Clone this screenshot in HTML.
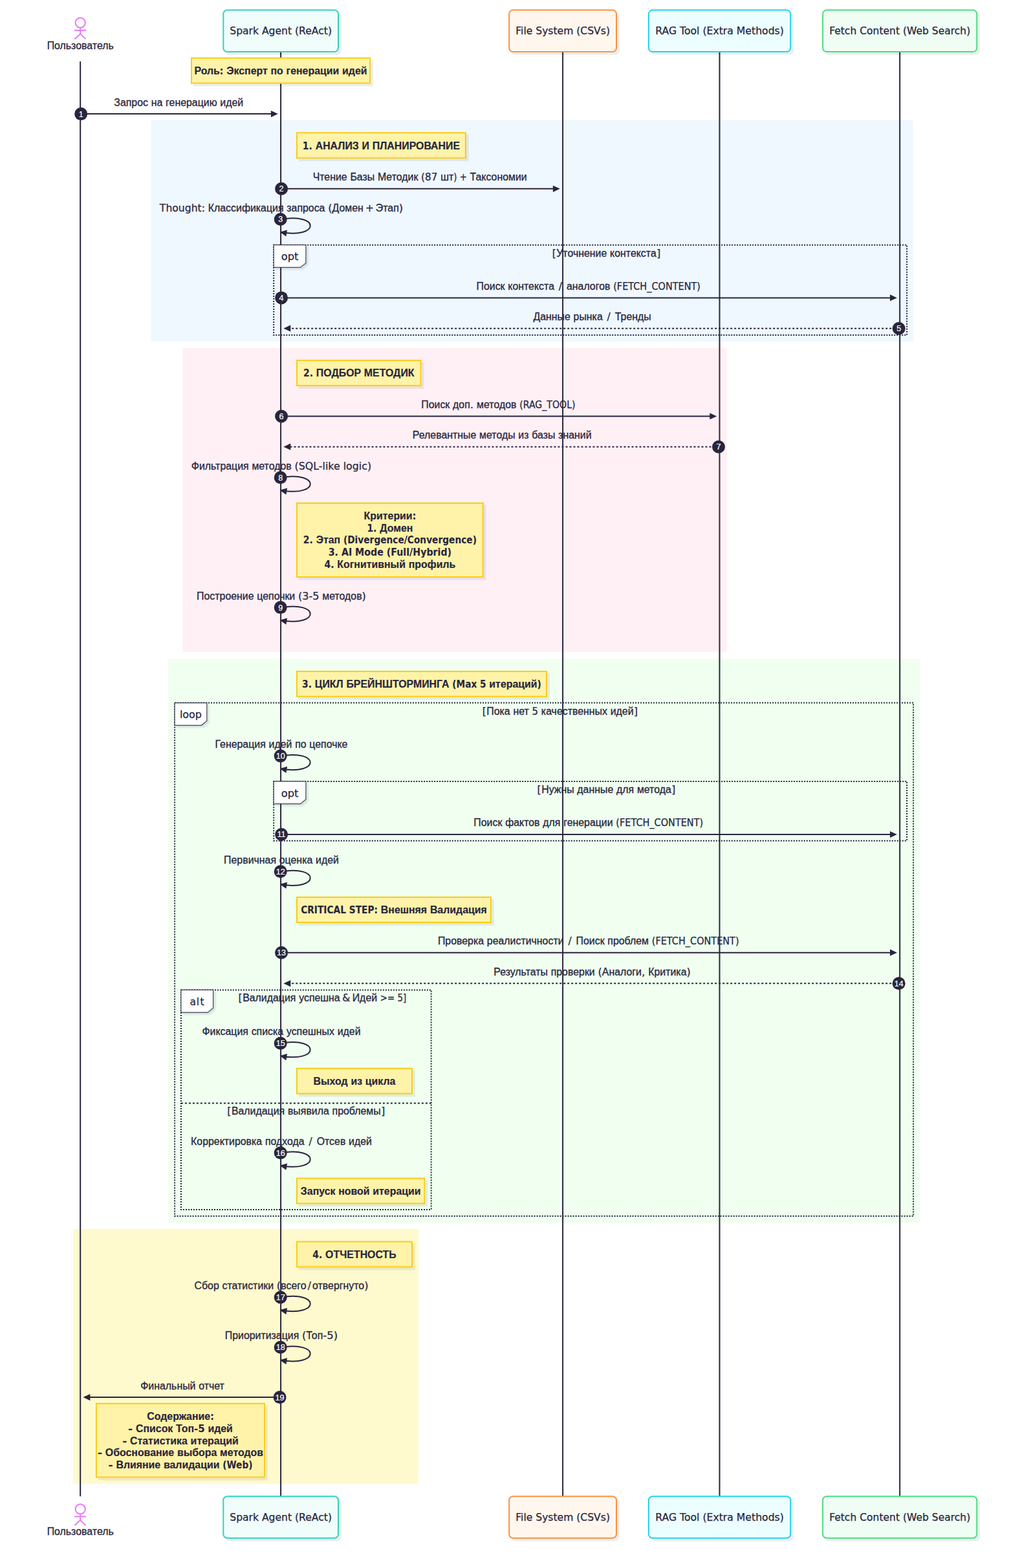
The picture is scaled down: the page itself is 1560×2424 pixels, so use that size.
<!DOCTYPE html>
<html lang="ru">
<head>
<meta charset="utf-8">
<title>Spark Agent sequence diagram</title>
<style>
html,body{margin:0;padding:0;background:#fff;}
body{width:1560px;height:2424px;overflow:hidden;font-family:"Liberation Sans","DejaVu Sans",sans-serif;}
svg{display:block;}
</style>
</head>
<body>
<svg width="1560" height="2424" viewBox="0 0 1560 2424">
<defs>
<filter id="sh" x="-10%" y="-20%" width="125%" height="150%"><feDropShadow dx="3.8" dy="3.8" stdDeviation="0.6" flood-color="#000" flood-opacity="0.07"/></filter>
<filter id="sh2" x="-20%" y="-20%" width="150%" height="160%"><feDropShadow dx="3" dy="3" stdDeviation="1" flood-color="#1e2a4a" flood-opacity="0.12"/></filter>
</defs>
<rect x="233.4" y="185.8" width="1178.4" height="342.3" fill="#f0f8ff"/>
<rect x="282.6" y="537.7" width="841.1" height="470.5" fill="#fff0f5"/>
<rect x="260.4" y="1018.4" width="1161.7" height="871.7" fill="#f0fff0"/>
<rect x="113.2" y="1899.9" width="533.8" height="394.0" fill="#fffacd"/>
<line x1="124.2" y1="95.0" x2="124.2" y2="2313.2999999999997" stroke="#28253d" stroke-width="2"/>
<line x1="434.1" y1="80.1" x2="434.1" y2="2313.2999999999997" stroke="#28253d" stroke-width="2"/>
<line x1="870.1" y1="80.1" x2="870.1" y2="2313.2999999999997" stroke="#28253d" stroke-width="2"/>
<line x1="1112.5" y1="80.1" x2="1112.5" y2="2313.2999999999997" stroke="#28253d" stroke-width="2"/>
<line x1="1391.2" y1="80.1" x2="1391.2" y2="2313.2999999999997" stroke="#28253d" stroke-width="2"/>
<g stroke="#e879f9" stroke-width="2" fill="none"><circle cx="124.2" cy="35.2" r="7.6"/><line x1="124.2" y1="43.2" x2="124.2" y2="52.7"/><line x1="115.2" y1="46.8" x2="133.2" y2="46.8"/><line x1="115.4" y1="60.4" x2="124.2" y2="52.4"/><line x1="124.2" y1="52.4" x2="132.5" y2="60.4"/></g>
<text y="75.60" fill="#28253d" stroke="#28253d" stroke-width="0.3" xml:space="preserve"><tspan x="72.65" font-family="'Liberation Sans', 'DejaVu Sans', sans-serif" font-size="16" textLength="103.10" lengthAdjust="spacingAndGlyphs">Пользователь</tspan></text>
<rect x="345.3" y="15.6" width="177.7" height="64.5" rx="6" fill="#f0fdfa" stroke="#2dd4bf" stroke-width="2" filter="url(#sh)"/>
<text y="53.30" fill="#28253d" stroke="#28253d" stroke-width="0.3" xml:space="preserve"><tspan x="355.24" font-family="'DejaVu Sans', 'Liberation Sans', sans-serif" font-size="15.50" stroke-width="0.25" textLength="157.77" lengthAdjust="spacingAndGlyphs">Spark Agent (ReAct)</tspan></text>
<rect x="787.2" y="15.6" width="165.8" height="64.5" rx="6" fill="#fff7ed" stroke="#fb923c" stroke-width="2" filter="url(#sh)"/>
<text y="53.30" fill="#28253d" stroke="#28253d" stroke-width="0.3" xml:space="preserve"><tspan x="797.24" font-family="'DejaVu Sans', 'Liberation Sans', sans-serif" font-size="15.50" stroke-width="0.25" textLength="145.73" lengthAdjust="spacingAndGlyphs">File System (CSVs)</tspan></text>
<rect x="1002.9" y="15.6" width="219.3" height="64.5" rx="6" fill="#ecfeff" stroke="#22d3ee" stroke-width="2" filter="url(#sh)"/>
<text y="53.30" fill="#28253d" stroke="#28253d" stroke-width="0.3" xml:space="preserve"><tspan x="1013.23" font-family="'DejaVu Sans', 'Liberation Sans', sans-serif" font-size="15.50" stroke-width="0.25" textLength="198.63" lengthAdjust="spacingAndGlyphs">RAG Tool (Extra Methods)</tspan></text>
<rect x="1272.1" y="15.6" width="238.2" height="64.5" rx="6" fill="#f0fdf4" stroke="#4ade80" stroke-width="2" filter="url(#sh)"/>
<text y="53.30" fill="#28253d" stroke="#28253d" stroke-width="0.3" xml:space="preserve"><tspan x="1282.14" font-family="'DejaVu Sans', 'Liberation Sans', sans-serif" font-size="15.50" stroke-width="0.25" textLength="218.12" lengthAdjust="spacingAndGlyphs">Fetch Content (Web Search)</tspan></text>
<g stroke="#e879f9" stroke-width="2" fill="none"><circle cx="124.2" cy="2332.9" r="7.6"/><line x1="124.2" y1="2340.9" x2="124.2" y2="2350.4"/><line x1="115.2" y1="2344.5" x2="133.2" y2="2344.5"/><line x1="115.4" y1="2358.1" x2="124.2" y2="2350.1"/><line x1="124.2" y1="2350.1" x2="132.5" y2="2358.1"/></g>
<text y="2373.30" fill="#28253d" stroke="#28253d" stroke-width="0.3" xml:space="preserve"><tspan x="72.65" font-family="'Liberation Sans', 'DejaVu Sans', sans-serif" font-size="16" textLength="103.10" lengthAdjust="spacingAndGlyphs">Пользователь</tspan></text>
<rect x="345.3" y="2313.3" width="177.7" height="64.5" rx="6" fill="#f0fdfa" stroke="#2dd4bf" stroke-width="2" filter="url(#sh)"/>
<text y="2351.00" fill="#28253d" stroke="#28253d" stroke-width="0.3" xml:space="preserve"><tspan x="355.24" font-family="'DejaVu Sans', 'Liberation Sans', sans-serif" font-size="15.50" stroke-width="0.25" textLength="157.77" lengthAdjust="spacingAndGlyphs">Spark Agent (ReAct)</tspan></text>
<rect x="787.2" y="2313.3" width="165.8" height="64.5" rx="6" fill="#fff7ed" stroke="#fb923c" stroke-width="2" filter="url(#sh)"/>
<text y="2351.00" fill="#28253d" stroke="#28253d" stroke-width="0.3" xml:space="preserve"><tspan x="797.24" font-family="'DejaVu Sans', 'Liberation Sans', sans-serif" font-size="15.50" stroke-width="0.25" textLength="145.73" lengthAdjust="spacingAndGlyphs">File System (CSVs)</tspan></text>
<rect x="1002.9" y="2313.3" width="219.3" height="64.5" rx="6" fill="#ecfeff" stroke="#22d3ee" stroke-width="2" filter="url(#sh)"/>
<text y="2351.00" fill="#28253d" stroke="#28253d" stroke-width="0.3" xml:space="preserve"><tspan x="1013.23" font-family="'DejaVu Sans', 'Liberation Sans', sans-serif" font-size="15.50" stroke-width="0.25" textLength="198.63" lengthAdjust="spacingAndGlyphs">RAG Tool (Extra Methods)</tspan></text>
<rect x="1272.1" y="2313.3" width="238.2" height="64.5" rx="6" fill="#f0fdf4" stroke="#4ade80" stroke-width="2" filter="url(#sh)"/>
<text y="2351.00" fill="#28253d" stroke="#28253d" stroke-width="0.3" xml:space="preserve"><tspan x="1282.14" font-family="'DejaVu Sans', 'Liberation Sans', sans-serif" font-size="15.50" stroke-width="0.25" textLength="218.12" lengthAdjust="spacingAndGlyphs">Fetch Content (Web Search)</tspan></text>
<rect x="423.2" y="378.7" width="978.9" height="139.3" fill="none" stroke="#28253d" stroke-width="2" stroke-dasharray="2 2"/>
<polygon points="423.2,378.7 472.9,378.7 472.9,406.59999999999997 464.5,413.4 423.2,413.4" fill="#fff" stroke="#28253d" stroke-opacity="0.85" stroke-width="1.2" filter="url(#sh2)"/>
<text y="402.30" fill="#28253d" stroke="#28253d" stroke-width="0.3" xml:space="preserve"><tspan x="434.67" font-family="'DejaVu Sans', 'Liberation Sans', sans-serif" font-size="15.50" stroke-width="0.25" textLength="26.77" lengthAdjust="spacingAndGlyphs">opt</tspan></text>
<text y="396.70" fill="#28253d" stroke="#28253d" stroke-width="0.3" xml:space="preserve"><tspan x="853.67" font-family="'DejaVu Sans', 'Liberation Sans', sans-serif" font-size="15.50" stroke-width="0.25">[</tspan><tspan x="860.26" font-family="'Liberation Sans', 'DejaVu Sans', sans-serif" font-size="16" textLength="78.05" lengthAdjust="spacingAndGlyphs">Уточнение</tspan><tspan> </tspan><tspan x="943.06" font-family="'Liberation Sans', 'DejaVu Sans', sans-serif" font-size="16" textLength="71.68" lengthAdjust="spacingAndGlyphs">контекста</tspan><tspan x="1015.28" font-family="'DejaVu Sans', 'Liberation Sans', sans-serif" font-size="15.50" stroke-width="0.25">]</tspan></text>
<rect x="270.1" y="1086.6" width="1142.0" height="793.5" fill="none" stroke="#28253d" stroke-width="2" stroke-dasharray="2 2"/>
<polygon points="270.1,1086.6 319.8,1086.6 319.8,1114.5 311.40000000000003,1121.3 270.1,1121.3" fill="#fff" stroke="#28253d" stroke-opacity="0.85" stroke-width="1.2" filter="url(#sh2)"/>
<text y="1110.20" fill="#28253d" stroke="#28253d" stroke-width="0.3" xml:space="preserve"><tspan x="277.92" font-family="'DejaVu Sans', 'Liberation Sans', sans-serif" font-size="15.50" stroke-width="0.25" textLength="34.06" lengthAdjust="spacingAndGlyphs">loop</tspan></text>
<text y="1104.60" fill="#28253d" stroke="#28253d" stroke-width="0.3" xml:space="preserve"><tspan x="745.74" font-family="'DejaVu Sans', 'Liberation Sans', sans-serif" font-size="15.50" stroke-width="0.25">[</tspan><tspan x="752.32" font-family="'Liberation Sans', 'DejaVu Sans', sans-serif" font-size="16" textLength="36.39" lengthAdjust="spacingAndGlyphs">Пока</tspan><tspan> </tspan><tspan x="793.47" font-family="'Liberation Sans', 'DejaVu Sans', sans-serif" font-size="16" textLength="24.36" lengthAdjust="spacingAndGlyphs">нет</tspan><tspan> </tspan><tspan x="822.58" font-family="'DejaVu Sans', 'Liberation Sans', sans-serif" font-size="15.50" stroke-width="0.25" textLength="9.50" lengthAdjust="spacingAndGlyphs">5</tspan><tspan> </tspan><tspan x="836.84" font-family="'Liberation Sans', 'DejaVu Sans', sans-serif" font-size="16" textLength="102.13" lengthAdjust="spacingAndGlyphs">качественных</tspan><tspan> </tspan><tspan x="943.72" font-family="'Liberation Sans', 'DejaVu Sans', sans-serif" font-size="16" textLength="35.86" lengthAdjust="spacingAndGlyphs">идей</tspan><tspan x="980.12" font-family="'DejaVu Sans', 'Liberation Sans', sans-serif" font-size="15.50" stroke-width="0.25">]</tspan></text>
<rect x="423.2" y="1207.9" width="978.9" height="91.8" fill="none" stroke="#28253d" stroke-width="2" stroke-dasharray="2 2"/>
<polygon points="423.2,1207.9 472.9,1207.9 472.9,1235.8000000000002 464.5,1242.6000000000001 423.2,1242.6000000000001" fill="#fff" stroke="#28253d" stroke-opacity="0.85" stroke-width="1.2" filter="url(#sh2)"/>
<text y="1231.50" fill="#28253d" stroke="#28253d" stroke-width="0.3" xml:space="preserve"><tspan x="434.67" font-family="'DejaVu Sans', 'Liberation Sans', sans-serif" font-size="15.50" stroke-width="0.25" textLength="26.77" lengthAdjust="spacingAndGlyphs">opt</tspan></text>
<text y="1225.90" fill="#28253d" stroke="#28253d" stroke-width="0.3" xml:space="preserve"><tspan x="830.59" font-family="'DejaVu Sans', 'Liberation Sans', sans-serif" font-size="15.50" stroke-width="0.25">[</tspan><tspan x="837.17" font-family="'Liberation Sans', 'DejaVu Sans', sans-serif" font-size="16" textLength="50.42" lengthAdjust="spacingAndGlyphs">Нужны</tspan><tspan> </tspan><tspan x="892.34" font-family="'Liberation Sans', 'DejaVu Sans', sans-serif" font-size="16" textLength="55.91" lengthAdjust="spacingAndGlyphs">данные</tspan><tspan> </tspan><tspan x="953.01" font-family="'Liberation Sans', 'DejaVu Sans', sans-serif" font-size="16" textLength="27.14" lengthAdjust="spacingAndGlyphs">для</tspan><tspan> </tspan><tspan x="984.90" font-family="'Liberation Sans', 'DejaVu Sans', sans-serif" font-size="16" textLength="52.92" lengthAdjust="spacingAndGlyphs">метода</tspan><tspan x="1038.37" font-family="'DejaVu Sans', 'Liberation Sans', sans-serif" font-size="15.50" stroke-width="0.25">]</tspan></text>
<rect x="279.9" y="1530.4" width="386.8" height="339.5" fill="none" stroke="#28253d" stroke-width="2" stroke-dasharray="2 2"/>
<line x1="279.9" y1="1705.5" x2="666.7" y2="1705.5" stroke="#28253d" stroke-width="2" stroke-dasharray="3 3"/>
<text y="1722.60" fill="#28253d" stroke="#28253d" stroke-width="0.3" xml:space="preserve"><tspan x="351.33" font-family="'DejaVu Sans', 'Liberation Sans', sans-serif" font-size="15.50" stroke-width="0.25">[</tspan><tspan x="357.92" font-family="'Liberation Sans', 'DejaVu Sans', sans-serif" font-size="16" textLength="82.26" lengthAdjust="spacingAndGlyphs">Валидация</tspan><tspan> </tspan><tspan x="444.93" font-family="'Liberation Sans', 'DejaVu Sans', sans-serif" font-size="16" textLength="63.89" lengthAdjust="spacingAndGlyphs">выявила</tspan><tspan> </tspan><tspan x="513.57" font-family="'Liberation Sans', 'DejaVu Sans', sans-serif" font-size="16" textLength="75.11" lengthAdjust="spacingAndGlyphs">проблемы</tspan><tspan x="589.22" font-family="'DejaVu Sans', 'Liberation Sans', sans-serif" font-size="15.50" stroke-width="0.25">]</tspan></text>
<polygon points="279.9,1530.4 329.59999999999997,1530.4 329.59999999999997,1558.3000000000002 321.2,1565.1000000000001 279.9,1565.1000000000001" fill="#fff" stroke="#28253d" stroke-opacity="0.85" stroke-width="1.2" filter="url(#sh2)"/>
<text y="1554.00" fill="#28253d" stroke="#28253d" stroke-width="0.3" xml:space="preserve"><tspan x="293.59 303.71 309.55" font-family="'DejaVu Sans', 'Liberation Sans', sans-serif" font-size="15.50" stroke-width="0.25">alt</tspan></text>
<text y="1548.40" fill="#28253d" stroke="#28253d" stroke-width="0.3" xml:space="preserve"><tspan x="368.59" font-family="'DejaVu Sans', 'Liberation Sans', sans-serif" font-size="15.50" stroke-width="0.25">[</tspan><tspan x="375.18" font-family="'Liberation Sans', 'DejaVu Sans', sans-serif" font-size="16" textLength="82.26" lengthAdjust="spacingAndGlyphs">Валидация</tspan><tspan> </tspan><tspan x="462.19" font-family="'Liberation Sans', 'DejaVu Sans', sans-serif" font-size="16" textLength="63.51" lengthAdjust="spacingAndGlyphs">успешна</tspan><tspan> </tspan><tspan x="529.16" font-family="'DejaVu Sans', 'Liberation Sans', sans-serif" font-size="15.50" stroke-width="0.25">&amp;</tspan><tspan> </tspan><tspan x="544.71" font-family="'Liberation Sans', 'DejaVu Sans', sans-serif" font-size="16" textLength="38.40" lengthAdjust="spacingAndGlyphs">Идей</tspan><tspan> </tspan><tspan x="587.86" font-family="'DejaVu Sans', 'Liberation Sans', sans-serif" font-size="15.50" stroke-width="0.25" textLength="40.39" lengthAdjust="spacingAndGlyphs">&gt;= 5]</tspan></text>
<rect x="296.0" y="89.7" width="276.0" height="38.9" fill="#fef3a8" stroke="#facc15" stroke-width="2" filter="url(#sh)"/>
<text y="114.85" fill="#28253d" stroke="#28253d" stroke-width="0.18" font-weight="bold" xml:space="preserve"><tspan x="300.50" font-family="'Liberation Sans', 'DejaVu Sans', sans-serif" font-size="16" textLength="39.37" lengthAdjust="spacingAndGlyphs">Роль</tspan><tspan x="339.87" font-family="'DejaVu Sans', 'Liberation Sans', sans-serif" font-size="15.50" stroke-width="0.1" textLength="5.54" lengthAdjust="spacingAndGlyphs">:</tspan><tspan> </tspan><tspan x="350.17" font-family="'Liberation Sans', 'DejaVu Sans', sans-serif" font-size="16" textLength="63.59" lengthAdjust="spacingAndGlyphs">Эксперт</tspan><tspan> </tspan><tspan x="418.51" font-family="'Liberation Sans', 'DejaVu Sans', sans-serif" font-size="16" textLength="19.30" lengthAdjust="spacingAndGlyphs">по</tspan><tspan> </tspan><tspan x="442.56" font-family="'Liberation Sans', 'DejaVu Sans', sans-serif" font-size="16" textLength="81.73" lengthAdjust="spacingAndGlyphs">генерации</tspan><tspan> </tspan><tspan x="529.04" font-family="'Liberation Sans', 'DejaVu Sans', sans-serif" font-size="16" textLength="38.46" lengthAdjust="spacingAndGlyphs">идей</tspan></text>
<rect x="459.0" y="205.3" width="260.9" height="39.0" fill="#fef3a8" stroke="#facc15" stroke-width="2" filter="url(#sh)"/>
<text y="230.50" fill="#28253d" stroke="#28253d" stroke-width="0.18" font-weight="bold" xml:space="preserve"><tspan x="467.86" font-family="'DejaVu Sans', 'Liberation Sans', sans-serif" font-size="15.50" stroke-width="0.1" textLength="15.05" lengthAdjust="spacingAndGlyphs">1.</tspan><tspan> </tspan><tspan x="487.66" font-family="'Liberation Sans', 'DejaVu Sans', sans-serif" font-size="16" textLength="67.14" lengthAdjust="spacingAndGlyphs">АНАЛИЗ</tspan><tspan> </tspan><tspan x="559.54" font-family="'Liberation Sans', 'DejaVu Sans', sans-serif" font-size="16" textLength="11.42" lengthAdjust="spacingAndGlyphs">И</tspan><tspan> </tspan><tspan x="575.72" font-family="'Liberation Sans', 'DejaVu Sans', sans-serif" font-size="16" textLength="135.33" lengthAdjust="spacingAndGlyphs">ПЛАНИРОВАНИЕ</tspan></text>
<rect x="459.0" y="557.2" width="191.6" height="39.0" fill="#fef3a8" stroke="#facc15" stroke-width="2" filter="url(#sh)"/>
<text y="582.40" fill="#28253d" stroke="#28253d" stroke-width="0.18" font-weight="bold" xml:space="preserve"><tspan x="469.03" font-family="'DejaVu Sans', 'Liberation Sans', sans-serif" font-size="15.50" stroke-width="0.1" textLength="15.05" lengthAdjust="spacingAndGlyphs">2.</tspan><tspan> </tspan><tspan x="488.83" font-family="'Liberation Sans', 'DejaVu Sans', sans-serif" font-size="16" textLength="69.26" lengthAdjust="spacingAndGlyphs">ПОДБОР</tspan><tspan> </tspan><tspan x="562.84" font-family="'Liberation Sans', 'DejaVu Sans', sans-serif" font-size="16" textLength="77.73" lengthAdjust="spacingAndGlyphs">МЕТОДИК</tspan></text>
<rect x="459.0" y="777.8" width="287.8" height="114.2" fill="#fef3a8" stroke="#facc15" stroke-width="2" filter="url(#sh)"/>
<text y="802.70" fill="#28253d" stroke="#28253d" stroke-width="0.18" font-weight="bold" xml:space="preserve"><tspan x="562.61" font-family="'Liberation Sans', 'DejaVu Sans', sans-serif" font-size="16" textLength="75.03" lengthAdjust="spacingAndGlyphs">Критерии</tspan><tspan x="637.64" font-family="'DejaVu Sans', 'Liberation Sans', sans-serif" font-size="15.50" stroke-width="0.1" textLength="5.54" lengthAdjust="spacingAndGlyphs">:</tspan></text>
<text y="821.55" fill="#28253d" stroke="#28253d" stroke-width="0.18" font-weight="bold" xml:space="preserve"><tspan x="567.40" font-family="'DejaVu Sans', 'Liberation Sans', sans-serif" font-size="15.50" stroke-width="0.1" textLength="15.05" lengthAdjust="spacingAndGlyphs">1.</tspan><tspan> </tspan><tspan x="587.20" font-family="'Liberation Sans', 'DejaVu Sans', sans-serif" font-size="16" textLength="51.19" lengthAdjust="spacingAndGlyphs">Домен</tspan></text>
<text y="840.40" fill="#28253d" stroke="#28253d" stroke-width="0.18" font-weight="bold" xml:space="preserve"><tspan x="468.87" font-family="'DejaVu Sans', 'Liberation Sans', sans-serif" font-size="15.50" stroke-width="0.1" textLength="15.05" lengthAdjust="spacingAndGlyphs">2.</tspan><tspan> </tspan><tspan x="488.67" font-family="'Liberation Sans', 'DejaVu Sans', sans-serif" font-size="16" textLength="37.52" lengthAdjust="spacingAndGlyphs">Этап</tspan><tspan> </tspan><tspan x="530.93" font-family="'DejaVu Sans', 'Liberation Sans', sans-serif" font-size="15.50" stroke-width="0.1" textLength="206.00" lengthAdjust="spacingAndGlyphs">(Divergence/Convergence)</tspan></text>
<text y="859.25" fill="#28253d" stroke="#28253d" stroke-width="0.18" font-weight="bold" xml:space="preserve"><tspan x="507.70" font-family="'DejaVu Sans', 'Liberation Sans', sans-serif" font-size="15.50" stroke-width="0.1" textLength="190.40" lengthAdjust="spacingAndGlyphs">3. AI Mode (Full/Hybrid)</tspan></text>
<text y="878.10" fill="#28253d" stroke="#28253d" stroke-width="0.18" font-weight="bold" xml:space="preserve"><tspan x="501.54" font-family="'DejaVu Sans', 'Liberation Sans', sans-serif" font-size="15.50" stroke-width="0.1" textLength="15.05" lengthAdjust="spacingAndGlyphs">4.</tspan><tspan> </tspan><tspan x="521.34" font-family="'Liberation Sans', 'DejaVu Sans', sans-serif" font-size="16" textLength="105.63" lengthAdjust="spacingAndGlyphs">Когнитивный</tspan><tspan> </tspan><tspan x="631.72" font-family="'Liberation Sans', 'DejaVu Sans', sans-serif" font-size="16" textLength="72.54" lengthAdjust="spacingAndGlyphs">профиль</tspan></text>
<rect x="459.0" y="1037.9" width="385.9" height="38.8" fill="#fef3a8" stroke="#facc15" stroke-width="2" filter="url(#sh)"/>
<text y="1063.00" fill="#28253d" stroke="#28253d" stroke-width="0.18" font-weight="bold" xml:space="preserve"><tspan x="467.00" font-family="'DejaVu Sans', 'Liberation Sans', sans-serif" font-size="15.50" stroke-width="0.1" textLength="15.05" lengthAdjust="spacingAndGlyphs">3.</tspan><tspan> </tspan><tspan x="486.80" font-family="'Liberation Sans', 'DejaVu Sans', sans-serif" font-size="16" textLength="43.87" lengthAdjust="spacingAndGlyphs">ЦИКЛ</tspan><tspan> </tspan><tspan x="535.42" font-family="'Liberation Sans', 'DejaVu Sans', sans-serif" font-size="16" textLength="159.14" lengthAdjust="spacingAndGlyphs">БРЕЙНШТОРМИНГА</tspan><tspan> </tspan><tspan x="699.31" font-family="'DejaVu Sans', 'Liberation Sans', sans-serif" font-size="15.50" stroke-width="0.1" textLength="52.27" lengthAdjust="spacingAndGlyphs">(Max 5</tspan><tspan> </tspan><tspan x="756.34" font-family="'Liberation Sans', 'DejaVu Sans', sans-serif" font-size="16" textLength="74.23" lengthAdjust="spacingAndGlyphs">итераций</tspan><tspan x="830.56" font-family="'DejaVu Sans', 'Liberation Sans', sans-serif" font-size="15.50" stroke-width="0.1" textLength="6.34" lengthAdjust="spacingAndGlyphs">)</tspan></text>
<rect x="459.0" y="1387.0" width="299.9" height="39.0" fill="#fef3a8" stroke="#facc15" stroke-width="2" filter="url(#sh)"/>
<text y="1412.20" fill="#28253d" stroke="#28253d" stroke-width="0.18" font-weight="bold" xml:space="preserve"><tspan x="465.13" font-family="'DejaVu Sans', 'Liberation Sans', sans-serif" font-size="15.50" stroke-width="0.1" textLength="118.96" lengthAdjust="spacingAndGlyphs">CRITICAL STEP:</tspan><tspan> </tspan><tspan x="588.84" font-family="'Liberation Sans', 'DejaVu Sans', sans-serif" font-size="16" textLength="71.29" lengthAdjust="spacingAndGlyphs">Внешняя</tspan><tspan> </tspan><tspan x="664.88" font-family="'Liberation Sans', 'DejaVu Sans', sans-serif" font-size="16" textLength="87.90" lengthAdjust="spacingAndGlyphs">Валидация</tspan></text>
<rect x="459.0" y="1651.7" width="178.0" height="38.9" fill="#fef3a8" stroke="#facc15" stroke-width="2" filter="url(#sh)"/>
<text y="1676.85" fill="#28253d" stroke="#28253d" stroke-width="0.18" font-weight="bold" xml:space="preserve"><tspan x="484.58" font-family="'Liberation Sans', 'DejaVu Sans', sans-serif" font-size="16" textLength="53.06" lengthAdjust="spacingAndGlyphs">Выход</tspan><tspan> </tspan><tspan x="542.39" font-family="'Liberation Sans', 'DejaVu Sans', sans-serif" font-size="16" textLength="17.66" lengthAdjust="spacingAndGlyphs">из</tspan><tspan> </tspan><tspan x="564.81" font-family="'Liberation Sans', 'DejaVu Sans', sans-serif" font-size="16" textLength="46.61" lengthAdjust="spacingAndGlyphs">цикла</tspan></text>
<rect x="459.0" y="1821.6" width="197.4" height="38.9" fill="#fef3a8" stroke="#facc15" stroke-width="2" filter="url(#sh)"/>
<text y="1846.75" fill="#28253d" stroke="#28253d" stroke-width="0.18" font-weight="bold" xml:space="preserve"><tspan x="464.86" font-family="'Liberation Sans', 'DejaVu Sans', sans-serif" font-size="16" textLength="53.61" lengthAdjust="spacingAndGlyphs">Запуск</tspan><tspan> </tspan><tspan x="523.23" font-family="'Liberation Sans', 'DejaVu Sans', sans-serif" font-size="16" textLength="48.33" lengthAdjust="spacingAndGlyphs">новой</tspan><tspan> </tspan><tspan x="576.31" font-family="'Liberation Sans', 'DejaVu Sans', sans-serif" font-size="16" textLength="74.23" lengthAdjust="spacingAndGlyphs">итерации</tspan></text>
<rect x="459.0" y="1919.5" width="178.0" height="39.0" fill="#fef3a8" stroke="#facc15" stroke-width="2" filter="url(#sh)"/>
<text y="1944.70" fill="#28253d" stroke="#28253d" stroke-width="0.18" font-weight="bold" xml:space="preserve"><tspan x="483.32" font-family="'DejaVu Sans', 'Liberation Sans', sans-serif" font-size="15.50" stroke-width="0.1" textLength="15.05" lengthAdjust="spacingAndGlyphs">4.</tspan><tspan> </tspan><tspan x="503.12" font-family="'Liberation Sans', 'DejaVu Sans', sans-serif" font-size="16" textLength="109.56" lengthAdjust="spacingAndGlyphs">ОТЧЕТНОСТЬ</tspan></text>
<rect x="148.9" y="2169.8" width="260.2" height="113.8" fill="#fef3a8" stroke="#facc15" stroke-width="2" filter="url(#sh)"/>
<text y="2194.80" fill="#28253d" stroke="#28253d" stroke-width="0.18" font-weight="bold" xml:space="preserve"><tspan x="227.29" font-family="'Liberation Sans', 'DejaVu Sans', sans-serif" font-size="16" textLength="97.88" lengthAdjust="spacingAndGlyphs">Содержание</tspan><tspan x="325.17" font-family="'DejaVu Sans', 'Liberation Sans', sans-serif" font-size="15.50" stroke-width="0.1" textLength="5.54" lengthAdjust="spacingAndGlyphs">:</tspan></text>
<text y="2213.65" fill="#28253d" stroke="#28253d" stroke-width="0.18" font-weight="bold" xml:space="preserve"><tspan x="198.10" font-family="'DejaVu Sans', 'Liberation Sans', sans-serif" font-size="15.50" stroke-width="0.1" textLength="7.13" lengthAdjust="spacingAndGlyphs">-</tspan><tspan> </tspan><tspan x="209.98" font-family="'Liberation Sans', 'DejaVu Sans', sans-serif" font-size="16" textLength="57.33" lengthAdjust="spacingAndGlyphs">Список</tspan><tspan> </tspan><tspan x="272.06" font-family="'Liberation Sans', 'DejaVu Sans', sans-serif" font-size="16" textLength="28.01" lengthAdjust="spacingAndGlyphs">Топ</tspan><tspan x="300.06" font-family="'DejaVu Sans', 'Liberation Sans', sans-serif" font-size="15.50" stroke-width="0.1" textLength="16.63" lengthAdjust="spacingAndGlyphs">-5</tspan><tspan> </tspan><tspan x="321.45" font-family="'Liberation Sans', 'DejaVu Sans', sans-serif" font-size="16" textLength="38.46" lengthAdjust="spacingAndGlyphs">идей</tspan></text>
<text y="2232.50" fill="#28253d" stroke="#28253d" stroke-width="0.18" font-weight="bold" xml:space="preserve"><tspan x="189.16" font-family="'DejaVu Sans', 'Liberation Sans', sans-serif" font-size="15.50" stroke-width="0.1" textLength="7.13" lengthAdjust="spacingAndGlyphs">-</tspan><tspan> </tspan><tspan x="201.04" font-family="'Liberation Sans', 'DejaVu Sans', sans-serif" font-size="16" textLength="88.81" lengthAdjust="spacingAndGlyphs">Статистика</tspan><tspan> </tspan><tspan x="294.61" font-family="'Liberation Sans', 'DejaVu Sans', sans-serif" font-size="16" textLength="74.23" lengthAdjust="spacingAndGlyphs">итераций</tspan></text>
<text y="2251.35" fill="#28253d" stroke="#28253d" stroke-width="0.18" font-weight="bold" xml:space="preserve"><tspan x="150.91" font-family="'DejaVu Sans', 'Liberation Sans', sans-serif" font-size="15.50" stroke-width="0.1" textLength="7.13" lengthAdjust="spacingAndGlyphs">-</tspan><tspan> </tspan><tspan x="162.79" font-family="'Liberation Sans', 'DejaVu Sans', sans-serif" font-size="16" textLength="106.40" lengthAdjust="spacingAndGlyphs">Обоснование</tspan><tspan> </tspan><tspan x="273.94" font-family="'Liberation Sans', 'DejaVu Sans', sans-serif" font-size="16" textLength="61.40" lengthAdjust="spacingAndGlyphs">выбора</tspan><tspan> </tspan><tspan x="340.09" font-family="'Liberation Sans', 'DejaVu Sans', sans-serif" font-size="16" textLength="67.00" lengthAdjust="spacingAndGlyphs">методов</tspan></text>
<text y="2270.20" fill="#28253d" stroke="#28253d" stroke-width="0.18" font-weight="bold" xml:space="preserve"><tspan x="167.54" font-family="'DejaVu Sans', 'Liberation Sans', sans-serif" font-size="15.50" stroke-width="0.1" textLength="7.13" lengthAdjust="spacingAndGlyphs">-</tspan><tspan> </tspan><tspan x="179.42" font-family="'Liberation Sans', 'DejaVu Sans', sans-serif" font-size="16" textLength="68.80" lengthAdjust="spacingAndGlyphs">Влияние</tspan><tspan> </tspan><tspan x="252.98" font-family="'Liberation Sans', 'DejaVu Sans', sans-serif" font-size="16" textLength="86.48" lengthAdjust="spacingAndGlyphs">валидации</tspan><tspan> </tspan><tspan x="344.21" font-family="'DejaVu Sans', 'Liberation Sans', sans-serif" font-size="15.50" stroke-width="0.1" textLength="46.25" lengthAdjust="spacingAndGlyphs">(Web)</tspan></text>
<line x1="125.2" y1="176.1" x2="420.8" y2="176.1" stroke="#28253d" stroke-width="2"/>
<path d="M429.80,176.10 L418.90,171.00 L418.90,181.20 Z" fill="#28253d"/>
<text y="163.50" fill="#28253d" stroke="#28253d" stroke-width="0.3" xml:space="preserve"><tspan x="176.33" font-family="'Liberation Sans', 'DejaVu Sans', sans-serif" font-size="16" textLength="52.65" lengthAdjust="spacingAndGlyphs">Запрос</tspan><tspan> </tspan><tspan x="233.74" font-family="'Liberation Sans', 'DejaVu Sans', sans-serif" font-size="16" textLength="17.61" lengthAdjust="spacingAndGlyphs">на</tspan><tspan> </tspan><tspan x="256.10" font-family="'Liberation Sans', 'DejaVu Sans', sans-serif" font-size="16" textLength="79.46" lengthAdjust="spacingAndGlyphs">генерацию</tspan><tspan> </tspan><tspan x="340.31" font-family="'Liberation Sans', 'DejaVu Sans', sans-serif" font-size="16" textLength="35.86" lengthAdjust="spacingAndGlyphs">идей</tspan></text>
<circle cx="125.2" cy="176.1" r="10" fill="#28253d"/>
<text x="125.2" y="180.5" text-anchor="middle" font-family="'Liberation Sans', 'DejaVu Sans', sans-serif" font-size="12.6" fill="#fff" stroke="#fff" stroke-width="0.2">1</text>
<line x1="435.1" y1="291.8" x2="856.8" y2="291.8" stroke="#28253d" stroke-width="2"/>
<path d="M865.80,291.80 L854.90,286.70 L854.90,296.90 Z" fill="#28253d"/>
<text y="279.20" fill="#28253d" stroke="#28253d" stroke-width="0.3" xml:space="preserve"><tspan x="483.64" font-family="'Liberation Sans', 'DejaVu Sans', sans-serif" font-size="16" textLength="53.01" lengthAdjust="spacingAndGlyphs">Чтение</tspan><tspan> </tspan><tspan x="541.40" font-family="'Liberation Sans', 'DejaVu Sans', sans-serif" font-size="16" textLength="37.79" lengthAdjust="spacingAndGlyphs">Базы</tspan><tspan> </tspan><tspan x="583.94" font-family="'Liberation Sans', 'DejaVu Sans', sans-serif" font-size="16" textLength="62.40" lengthAdjust="spacingAndGlyphs">Методик</tspan><tspan> </tspan><tspan x="651.10" font-family="'DejaVu Sans', 'Liberation Sans', sans-serif" font-size="15.50" stroke-width="0.25" textLength="25.34" lengthAdjust="spacingAndGlyphs">(87</tspan><tspan> </tspan><tspan x="681.19" font-family="'Liberation Sans', 'DejaVu Sans', sans-serif" font-size="16" textLength="20.02" lengthAdjust="spacingAndGlyphs">шт</tspan><tspan x="701.22" font-family="'DejaVu Sans', 'Liberation Sans', sans-serif" font-size="15.50" stroke-width="0.25" textLength="20.59" lengthAdjust="spacingAndGlyphs">) +</tspan><tspan> </tspan><tspan x="726.56" font-family="'Liberation Sans', 'DejaVu Sans', sans-serif" font-size="16" textLength="88.20" lengthAdjust="spacingAndGlyphs">Таксономии</tspan></text>
<circle cx="435.1" cy="291.8" r="10" fill="#28253d"/>
<text x="435.1" y="296.2" text-anchor="middle" font-family="'Liberation Sans', 'DejaVu Sans', sans-serif" font-size="12.6" fill="#fff" stroke="#fff" stroke-width="0.2">2</text>
<path d="M434.7,339.0 C494.7,329.0 494.7,369.0 434.7,359.0" fill="none" stroke="#28253d" stroke-width="2"/>
<path d="M432.50,358.65 L442.41,365.47 L444.09,355.41 Z" fill="#28253d"/>
<text y="326.60" fill="#28253d" stroke="#28253d" stroke-width="0.3" xml:space="preserve"><tspan x="246.83" font-family="'DejaVu Sans', 'Liberation Sans', sans-serif" font-size="15.50" stroke-width="0.25" textLength="70.17" lengthAdjust="spacingAndGlyphs">Thought:</tspan><tspan> </tspan><tspan x="321.76" font-family="'Liberation Sans', 'DejaVu Sans', sans-serif" font-size="16" textLength="116.79" lengthAdjust="spacingAndGlyphs">Классификация</tspan><tspan> </tspan><tspan x="443.29" font-family="'Liberation Sans', 'DejaVu Sans', sans-serif" font-size="16" textLength="59.18" lengthAdjust="spacingAndGlyphs">запроса</tspan><tspan> </tspan><tspan x="507.22" font-family="'DejaVu Sans', 'Liberation Sans', sans-serif" font-size="15.50" stroke-width="0.25" textLength="6.34" lengthAdjust="spacingAndGlyphs">(</tspan><tspan x="513.56" font-family="'Liberation Sans', 'DejaVu Sans', sans-serif" font-size="16" textLength="48.31" lengthAdjust="spacingAndGlyphs">Домен</tspan><tspan> </tspan><tspan x="564.88" font-family="'DejaVu Sans', 'Liberation Sans', sans-serif" font-size="15.50" stroke-width="0.25">+</tspan><tspan> </tspan><tspan x="580.87" font-family="'Liberation Sans', 'DejaVu Sans', sans-serif" font-size="16" textLength="35.96" lengthAdjust="spacingAndGlyphs">Этап</tspan><tspan x="616.83" font-family="'DejaVu Sans', 'Liberation Sans', sans-serif" font-size="15.50" stroke-width="0.25" textLength="6.34" lengthAdjust="spacingAndGlyphs">)</tspan></text>
<circle cx="433.7" cy="339.0" r="10" fill="#28253d"/>
<text x="433.7" y="343.4" text-anchor="middle" font-family="'Liberation Sans', 'DejaVu Sans', sans-serif" font-size="12.6" fill="#fff" stroke="#fff" stroke-width="0.2">3</text>
<line x1="435.1" y1="460.4" x2="1377.9" y2="460.4" stroke="#28253d" stroke-width="2"/>
<path d="M1386.90,460.40 L1376.00,455.30 L1376.00,465.50 Z" fill="#28253d"/>
<text y="447.80" fill="#28253d" stroke="#28253d" stroke-width="0.3" xml:space="preserve"><tspan x="736.51" font-family="'Liberation Sans', 'DejaVu Sans', sans-serif" font-size="16" textLength="44.03" lengthAdjust="spacingAndGlyphs">Поиск</tspan><tspan> </tspan><tspan x="785.29" font-family="'Liberation Sans', 'DejaVu Sans', sans-serif" font-size="16" textLength="71.68" lengthAdjust="spacingAndGlyphs">контекста</tspan><tspan> </tspan><tspan x="863.87" font-family="'DejaVu Sans', 'Liberation Sans', sans-serif" font-size="15.50" stroke-width="0.25">/</tspan><tspan> </tspan><tspan x="875.98" font-family="'Liberation Sans', 'DejaVu Sans', sans-serif" font-size="16" textLength="67.45" lengthAdjust="spacingAndGlyphs">аналогов</tspan><tspan> </tspan><tspan x="948.19" font-family="'DejaVu Sans', 'Liberation Sans', sans-serif" font-size="15.50" stroke-width="0.25" textLength="134.80" lengthAdjust="spacingAndGlyphs">(FETCH_CONTENT)</tspan></text>
<circle cx="435.1" cy="460.4" r="10" fill="#28253d"/>
<text x="435.1" y="464.8" text-anchor="middle" font-family="'Liberation Sans', 'DejaVu Sans', sans-serif" font-size="12.6" fill="#fff" stroke="#fff" stroke-width="0.2">4</text>
<line x1="1390.2" y1="507.7" x2="447.4" y2="507.7" stroke="#28253d" stroke-width="2" stroke-dasharray="3 3"/>
<path d="M438.40,507.70 L449.30,512.80 L449.30,502.60 Z" fill="#28253d"/>
<text y="495.10" fill="#28253d" stroke="#28253d" stroke-width="0.3" xml:space="preserve"><tspan x="824.41" font-family="'Liberation Sans', 'DejaVu Sans', sans-serif" font-size="16" textLength="57.40" lengthAdjust="spacingAndGlyphs">Данные</tspan><tspan> </tspan><tspan x="886.56" font-family="'Liberation Sans', 'DejaVu Sans', sans-serif" font-size="16" textLength="45.17" lengthAdjust="spacingAndGlyphs">рынка</tspan><tspan> </tspan><tspan x="938.62" font-family="'DejaVu Sans', 'Liberation Sans', sans-serif" font-size="15.50" stroke-width="0.25">/</tspan><tspan> </tspan><tspan x="950.74" font-family="'Liberation Sans', 'DejaVu Sans', sans-serif" font-size="16" textLength="55.95" lengthAdjust="spacingAndGlyphs">Тренды</tspan></text>
<circle cx="1389.7" cy="507.7" r="10" fill="#28253d"/>
<text x="1389.7" y="512.1" text-anchor="middle" font-family="'Liberation Sans', 'DejaVu Sans', sans-serif" font-size="12.6" fill="#fff" stroke="#fff" stroke-width="0.2">5</text>
<line x1="435.1" y1="643.5" x2="1099.2" y2="643.5" stroke="#28253d" stroke-width="2"/>
<path d="M1108.20,643.50 L1097.30,638.40 L1097.30,648.60 Z" fill="#28253d"/>
<text y="630.90" fill="#28253d" stroke="#28253d" stroke-width="0.3" xml:space="preserve"><tspan x="651.29" font-family="'Liberation Sans', 'DejaVu Sans', sans-serif" font-size="16" textLength="44.03" lengthAdjust="spacingAndGlyphs">Поиск</tspan><tspan> </tspan><tspan x="700.06" font-family="'Liberation Sans', 'DejaVu Sans', sans-serif" font-size="16" textLength="26.71" lengthAdjust="spacingAndGlyphs">доп</tspan><tspan x="727.08" font-family="'DejaVu Sans', 'Liberation Sans', sans-serif" font-size="15.50" stroke-width="0.25">.</tspan><tspan> </tspan><tspan x="737.07" font-family="'Liberation Sans', 'DejaVu Sans', sans-serif" font-size="16" textLength="61.36" lengthAdjust="spacingAndGlyphs">методов</tspan><tspan> </tspan><tspan x="803.19" font-family="'DejaVu Sans', 'Liberation Sans', sans-serif" font-size="15.50" stroke-width="0.25" textLength="86.33" lengthAdjust="spacingAndGlyphs">(RAG_TOOL)</tspan></text>
<circle cx="435.1" cy="643.5" r="10" fill="#28253d"/>
<text x="435.1" y="647.9" text-anchor="middle" font-family="'Liberation Sans', 'DejaVu Sans', sans-serif" font-size="12.6" fill="#fff" stroke="#fff" stroke-width="0.2">6</text>
<line x1="1111.5" y1="690.7" x2="447.4" y2="690.7" stroke="#28253d" stroke-width="2" stroke-dasharray="3 3"/>
<path d="M438.40,690.70 L449.30,695.80 L449.30,685.60 Z" fill="#28253d"/>
<text y="678.10" fill="#28253d" stroke="#28253d" stroke-width="0.3" xml:space="preserve"><tspan x="637.86" font-family="'Liberation Sans', 'DejaVu Sans', sans-serif" font-size="16" textLength="98.49" lengthAdjust="spacingAndGlyphs">Релевантные</tspan><tspan> </tspan><tspan x="741.10" font-family="'Liberation Sans', 'DejaVu Sans', sans-serif" font-size="16" textLength="55.51" lengthAdjust="spacingAndGlyphs">методы</tspan><tspan> </tspan><tspan x="801.36" font-family="'Liberation Sans', 'DejaVu Sans', sans-serif" font-size="16" textLength="16.16" lengthAdjust="spacingAndGlyphs">из</tspan><tspan> </tspan><tspan x="822.27" font-family="'Liberation Sans', 'DejaVu Sans', sans-serif" font-size="16" textLength="36.10" lengthAdjust="spacingAndGlyphs">базы</tspan><tspan> </tspan><tspan x="863.12" font-family="'Liberation Sans', 'DejaVu Sans', sans-serif" font-size="16" textLength="51.42" lengthAdjust="spacingAndGlyphs">знаний</tspan></text>
<circle cx="1111.0" cy="690.7" r="10" fill="#28253d"/>
<text x="1111.0" y="695.1" text-anchor="middle" font-family="'Liberation Sans', 'DejaVu Sans', sans-serif" font-size="12.6" fill="#fff" stroke="#fff" stroke-width="0.2">7</text>
<path d="M434.7,738.2 C494.7,728.2 494.7,768.2 434.7,758.2" fill="none" stroke="#28253d" stroke-width="2"/>
<path d="M432.50,757.85 L442.41,764.67 L444.09,754.61 Z" fill="#28253d"/>
<text y="725.80" fill="#28253d" stroke="#28253d" stroke-width="0.3" xml:space="preserve"><tspan x="295.85" font-family="'Liberation Sans', 'DejaVu Sans', sans-serif" font-size="16" textLength="88.79" lengthAdjust="spacingAndGlyphs">Фильтрация</tspan><tspan> </tspan><tspan x="389.39" font-family="'Liberation Sans', 'DejaVu Sans', sans-serif" font-size="16" textLength="61.36" lengthAdjust="spacingAndGlyphs">методов</tspan><tspan> </tspan><tspan x="455.51" font-family="'DejaVu Sans', 'Liberation Sans', sans-serif" font-size="15.50" stroke-width="0.25" textLength="118.64" lengthAdjust="spacingAndGlyphs">(SQL-like logic)</tspan></text>
<circle cx="433.7" cy="738.2" r="10" fill="#28253d"/>
<text x="433.7" y="742.6" text-anchor="middle" font-family="'Liberation Sans', 'DejaVu Sans', sans-serif" font-size="12.6" fill="#fff" stroke="#fff" stroke-width="0.2">8</text>
<path d="M434.7,939.1 C494.7,929.1 494.7,969.1 434.7,959.1" fill="none" stroke="#28253d" stroke-width="2"/>
<path d="M432.50,958.75 L442.41,965.57 L444.09,955.51 Z" fill="#28253d"/>
<text y="926.70" fill="#28253d" stroke="#28253d" stroke-width="0.3" xml:space="preserve"><tspan x="304.07" font-family="'Liberation Sans', 'DejaVu Sans', sans-serif" font-size="16" textLength="88.47" lengthAdjust="spacingAndGlyphs">Построение</tspan><tspan> </tspan><tspan x="397.30" font-family="'Liberation Sans', 'DejaVu Sans', sans-serif" font-size="16" textLength="58.95" lengthAdjust="spacingAndGlyphs">цепочки</tspan><tspan> </tspan><tspan x="461.00" font-family="'DejaVu Sans', 'Liberation Sans', sans-serif" font-size="15.50" stroke-width="0.25" textLength="32.47" lengthAdjust="spacingAndGlyphs">(3-5</tspan><tspan> </tspan><tspan x="498.22" font-family="'Liberation Sans', 'DejaVu Sans', sans-serif" font-size="16" textLength="61.36" lengthAdjust="spacingAndGlyphs">методов</tspan><tspan x="559.59" font-family="'DejaVu Sans', 'Liberation Sans', sans-serif" font-size="15.50" stroke-width="0.25" textLength="6.34" lengthAdjust="spacingAndGlyphs">)</tspan></text>
<circle cx="433.7" cy="939.1" r="10" fill="#28253d"/>
<text x="433.7" y="943.5" text-anchor="middle" font-family="'Liberation Sans', 'DejaVu Sans', sans-serif" font-size="12.6" fill="#fff" stroke="#fff" stroke-width="0.2">9</text>
<path d="M434.7,1168.6 C494.7,1158.6 494.7,1198.6 434.7,1188.6" fill="none" stroke="#28253d" stroke-width="2"/>
<path d="M432.50,1188.25 L442.41,1195.07 L444.09,1185.01 Z" fill="#28253d"/>
<text y="1156.20" fill="#28253d" stroke="#28253d" stroke-width="0.3" xml:space="preserve"><tspan x="332.56" font-family="'Liberation Sans', 'DejaVu Sans', sans-serif" font-size="16" textLength="78.24" lengthAdjust="spacingAndGlyphs">Генерация</tspan><tspan> </tspan><tspan x="415.55" font-family="'Liberation Sans', 'DejaVu Sans', sans-serif" font-size="16" textLength="35.86" lengthAdjust="spacingAndGlyphs">идей</tspan><tspan> </tspan><tspan x="456.16" font-family="'Liberation Sans', 'DejaVu Sans', sans-serif" font-size="16" textLength="17.44" lengthAdjust="spacingAndGlyphs">по</tspan><tspan> </tspan><tspan x="478.35" font-family="'Liberation Sans', 'DejaVu Sans', sans-serif" font-size="16" textLength="59.09" lengthAdjust="spacingAndGlyphs">цепочке</tspan></text>
<circle cx="433.7" cy="1168.6" r="10" fill="#28253d"/>
<text x="433.7" y="1173.0" text-anchor="middle" font-family="'Liberation Sans', 'DejaVu Sans', sans-serif" font-size="12.6" fill="#fff" stroke="#fff" stroke-width="0.2">10</text>
<line x1="435.1" y1="1290.0" x2="1377.9" y2="1290.0" stroke="#28253d" stroke-width="2"/>
<path d="M1386.90,1290.00 L1376.00,1284.90 L1376.00,1295.10 Z" fill="#28253d"/>
<text y="1277.40" fill="#28253d" stroke="#28253d" stroke-width="0.3" xml:space="preserve"><tspan x="732.35" font-family="'Liberation Sans', 'DejaVu Sans', sans-serif" font-size="16" textLength="44.03" lengthAdjust="spacingAndGlyphs">Поиск</tspan><tspan> </tspan><tspan x="781.13" font-family="'Liberation Sans', 'DejaVu Sans', sans-serif" font-size="16" textLength="53.41" lengthAdjust="spacingAndGlyphs">фактов</tspan><tspan> </tspan><tspan x="839.29" font-family="'Liberation Sans', 'DejaVu Sans', sans-serif" font-size="16" textLength="27.14" lengthAdjust="spacingAndGlyphs">для</tspan><tspan> </tspan><tspan x="871.19" font-family="'Liberation Sans', 'DejaVu Sans', sans-serif" font-size="16" textLength="76.41" lengthAdjust="spacingAndGlyphs">генерации</tspan><tspan> </tspan><tspan x="952.35" font-family="'DejaVu Sans', 'Liberation Sans', sans-serif" font-size="15.50" stroke-width="0.25" textLength="134.80" lengthAdjust="spacingAndGlyphs">(FETCH_CONTENT)</tspan></text>
<circle cx="435.1" cy="1290.0" r="10" fill="#28253d"/>
<text x="435.1" y="1294.4" text-anchor="middle" font-family="'Liberation Sans', 'DejaVu Sans', sans-serif" font-size="12.6" fill="#fff" stroke="#fff" stroke-width="0.2">11</text>
<path d="M434.7,1347.3 C494.7,1337.3 494.7,1377.3 434.7,1367.3" fill="none" stroke="#28253d" stroke-width="2"/>
<path d="M432.50,1366.95 L442.41,1373.77 L444.09,1363.71 Z" fill="#28253d"/>
<text y="1334.90" fill="#28253d" stroke="#28253d" stroke-width="0.3" xml:space="preserve"><tspan x="346.12" font-family="'Liberation Sans', 'DejaVu Sans', sans-serif" font-size="16" textLength="80.90" lengthAdjust="spacingAndGlyphs">Первичная</tspan><tspan> </tspan><tspan x="431.77" font-family="'Liberation Sans', 'DejaVu Sans', sans-serif" font-size="16" textLength="51.50" lengthAdjust="spacingAndGlyphs">оценка</tspan><tspan> </tspan><tspan x="488.03" font-family="'Liberation Sans', 'DejaVu Sans', sans-serif" font-size="16" textLength="35.86" lengthAdjust="spacingAndGlyphs">идей</tspan></text>
<circle cx="433.7" cy="1347.3" r="10" fill="#28253d"/>
<text x="433.7" y="1351.7" text-anchor="middle" font-family="'Liberation Sans', 'DejaVu Sans', sans-serif" font-size="12.6" fill="#fff" stroke="#fff" stroke-width="0.2">12</text>
<line x1="435.1" y1="1472.7" x2="1377.9" y2="1472.7" stroke="#28253d" stroke-width="2"/>
<path d="M1386.90,1472.70 L1376.00,1467.60 L1376.00,1477.80 Z" fill="#28253d"/>
<text y="1460.10" fill="#28253d" stroke="#28253d" stroke-width="0.3" xml:space="preserve"><tspan x="676.91" font-family="'Liberation Sans', 'DejaVu Sans', sans-serif" font-size="16" textLength="71.16" lengthAdjust="spacingAndGlyphs">Проверка</tspan><tspan> </tspan><tspan x="752.83" font-family="'Liberation Sans', 'DejaVu Sans', sans-serif" font-size="16" textLength="118.73" lengthAdjust="spacingAndGlyphs">реалистичности</tspan><tspan> </tspan><tspan x="878.45" font-family="'DejaVu Sans', 'Liberation Sans', sans-serif" font-size="15.50" stroke-width="0.25">/</tspan><tspan> </tspan><tspan x="890.57" font-family="'Liberation Sans', 'DejaVu Sans', sans-serif" font-size="16" textLength="44.03" lengthAdjust="spacingAndGlyphs">Поиск</tspan><tspan> </tspan><tspan x="939.35" font-family="'Liberation Sans', 'DejaVu Sans', sans-serif" font-size="16" textLength="63.69" lengthAdjust="spacingAndGlyphs">проблем</tspan><tspan> </tspan><tspan x="1007.79" font-family="'DejaVu Sans', 'Liberation Sans', sans-serif" font-size="15.50" stroke-width="0.25" textLength="134.80" lengthAdjust="spacingAndGlyphs">(FETCH_CONTENT)</tspan></text>
<circle cx="435.1" cy="1472.7" r="10" fill="#28253d"/>
<text x="435.1" y="1477.1" text-anchor="middle" font-family="'Liberation Sans', 'DejaVu Sans', sans-serif" font-size="12.6" fill="#fff" stroke="#fff" stroke-width="0.2">13</text>
<line x1="1390.2" y1="1520.3" x2="447.4" y2="1520.3" stroke="#28253d" stroke-width="2" stroke-dasharray="3 3"/>
<path d="M438.40,1520.30 L449.30,1525.40 L449.30,1515.20 Z" fill="#28253d"/>
<text y="1507.70" fill="#28253d" stroke="#28253d" stroke-width="0.3" xml:space="preserve"><tspan x="763.25" font-family="'Liberation Sans', 'DejaVu Sans', sans-serif" font-size="16" textLength="83.68" lengthAdjust="spacingAndGlyphs">Результаты</tspan><tspan> </tspan><tspan x="851.68" font-family="'Liberation Sans', 'DejaVu Sans', sans-serif" font-size="16" textLength="68.04" lengthAdjust="spacingAndGlyphs">проверки</tspan><tspan> </tspan><tspan x="924.47" font-family="'DejaVu Sans', 'Liberation Sans', sans-serif" font-size="15.50" stroke-width="0.25" textLength="6.34" lengthAdjust="spacingAndGlyphs">(</tspan><tspan x="930.80" font-family="'Liberation Sans', 'DejaVu Sans', sans-serif" font-size="16" textLength="61.16" lengthAdjust="spacingAndGlyphs">Аналоги</tspan><tspan x="992.27" font-family="'DejaVu Sans', 'Liberation Sans', sans-serif" font-size="15.50" stroke-width="0.25">,</tspan><tspan> </tspan><tspan x="1002.26" font-family="'Liberation Sans', 'DejaVu Sans', sans-serif" font-size="16" textLength="59.25" lengthAdjust="spacingAndGlyphs">Критика</tspan><tspan x="1061.52" font-family="'DejaVu Sans', 'Liberation Sans', sans-serif" font-size="15.50" stroke-width="0.25" textLength="6.34" lengthAdjust="spacingAndGlyphs">)</tspan></text>
<circle cx="1389.7" cy="1520.3" r="10" fill="#28253d"/>
<text x="1389.7" y="1524.7" text-anchor="middle" font-family="'Liberation Sans', 'DejaVu Sans', sans-serif" font-size="12.6" fill="#fff" stroke="#fff" stroke-width="0.2">14</text>
<path d="M434.7,1612.7 C494.7,1602.7 494.7,1642.7 434.7,1632.7" fill="none" stroke="#28253d" stroke-width="2"/>
<path d="M432.50,1632.35 L442.41,1639.17 L444.09,1629.11 Z" fill="#28253d"/>
<text y="1600.30" fill="#28253d" stroke="#28253d" stroke-width="0.3" xml:space="preserve"><tspan x="312.46" font-family="'Liberation Sans', 'DejaVu Sans', sans-serif" font-size="16" textLength="71.44" lengthAdjust="spacingAndGlyphs">Фиксация</tspan><tspan> </tspan><tspan x="388.65" font-family="'Liberation Sans', 'DejaVu Sans', sans-serif" font-size="16" textLength="49.50" lengthAdjust="spacingAndGlyphs">списка</tspan><tspan> </tspan><tspan x="442.90" font-family="'Liberation Sans', 'DejaVu Sans', sans-serif" font-size="16" textLength="74.03" lengthAdjust="spacingAndGlyphs">успешных</tspan><tspan> </tspan><tspan x="521.69" font-family="'Liberation Sans', 'DejaVu Sans', sans-serif" font-size="16" textLength="35.86" lengthAdjust="spacingAndGlyphs">идей</tspan></text>
<circle cx="433.7" cy="1612.7" r="10" fill="#28253d"/>
<text x="433.7" y="1617.1" text-anchor="middle" font-family="'Liberation Sans', 'DejaVu Sans', sans-serif" font-size="12.6" fill="#fff" stroke="#fff" stroke-width="0.2">15</text>
<path d="M434.7,1782.2 C494.7,1772.2 494.7,1812.2 434.7,1802.2" fill="none" stroke="#28253d" stroke-width="2"/>
<path d="M432.50,1801.85 L442.41,1808.67 L444.09,1798.61 Z" fill="#28253d"/>
<text y="1769.80" fill="#28253d" stroke="#28253d" stroke-width="0.3" xml:space="preserve"><tspan x="295.05" font-family="'Liberation Sans', 'DejaVu Sans', sans-serif" font-size="16" textLength="110.13" lengthAdjust="spacingAndGlyphs">Корректировка</tspan><tspan> </tspan><tspan x="409.93" font-family="'Liberation Sans', 'DejaVu Sans', sans-serif" font-size="16" textLength="60.72" lengthAdjust="spacingAndGlyphs">подхода</tspan><tspan> </tspan><tspan x="477.55" font-family="'DejaVu Sans', 'Liberation Sans', sans-serif" font-size="15.50" stroke-width="0.25">/</tspan><tspan> </tspan><tspan x="489.66" font-family="'Liberation Sans', 'DejaVu Sans', sans-serif" font-size="16" textLength="44.68" lengthAdjust="spacingAndGlyphs">Отсев</tspan><tspan> </tspan><tspan x="539.09" font-family="'Liberation Sans', 'DejaVu Sans', sans-serif" font-size="16" textLength="35.86" lengthAdjust="spacingAndGlyphs">идей</tspan></text>
<circle cx="433.7" cy="1782.2" r="10" fill="#28253d"/>
<text x="433.7" y="1786.6" text-anchor="middle" font-family="'Liberation Sans', 'DejaVu Sans', sans-serif" font-size="12.6" fill="#fff" stroke="#fff" stroke-width="0.2">16</text>
<path d="M434.7,2005.5 C494.7,1995.5 494.7,2035.5 434.7,2025.5" fill="none" stroke="#28253d" stroke-width="2"/>
<path d="M432.50,2025.15 L442.41,2031.97 L444.09,2021.91 Z" fill="#28253d"/>
<text y="1993.10" fill="#28253d" stroke="#28253d" stroke-width="0.3" xml:space="preserve"><tspan x="300.50" font-family="'Liberation Sans', 'DejaVu Sans', sans-serif" font-size="16" textLength="38.25" lengthAdjust="spacingAndGlyphs">Сбор</tspan><tspan> </tspan><tspan x="343.50" font-family="'Liberation Sans', 'DejaVu Sans', sans-serif" font-size="16" textLength="79.60" lengthAdjust="spacingAndGlyphs">статистики</tspan><tspan> </tspan><tspan x="427.85" font-family="'DejaVu Sans', 'Liberation Sans', sans-serif" font-size="15.50" stroke-width="0.25" textLength="6.34" lengthAdjust="spacingAndGlyphs">(</tspan><tspan x="434.19" font-family="'Liberation Sans', 'DejaVu Sans', sans-serif" font-size="16" textLength="39.32" lengthAdjust="spacingAndGlyphs">всего</tspan><tspan x="475.65" font-family="'DejaVu Sans', 'Liberation Sans', sans-serif" font-size="15.50" stroke-width="0.25">/</tspan><tspan x="483.02" font-family="'Liberation Sans', 'DejaVu Sans', sans-serif" font-size="16" textLength="80.15" lengthAdjust="spacingAndGlyphs">отвергнуто</tspan><tspan x="563.16" font-family="'DejaVu Sans', 'Liberation Sans', sans-serif" font-size="15.50" stroke-width="0.25" textLength="6.34" lengthAdjust="spacingAndGlyphs">)</tspan></text>
<circle cx="433.7" cy="2005.5" r="10" fill="#28253d"/>
<text x="433.7" y="2009.9" text-anchor="middle" font-family="'Liberation Sans', 'DejaVu Sans', sans-serif" font-size="12.6" fill="#fff" stroke="#fff" stroke-width="0.2">17</text>
<path d="M434.7,2082.8 C494.7,2072.8 494.7,2112.8 434.7,2102.8" fill="none" stroke="#28253d" stroke-width="2"/>
<path d="M432.50,2102.45 L442.41,2109.27 L444.09,2099.21 Z" fill="#28253d"/>
<text y="2070.40" fill="#28253d" stroke="#28253d" stroke-width="0.3" xml:space="preserve"><tspan x="347.76" font-family="'Liberation Sans', 'DejaVu Sans', sans-serif" font-size="16" textLength="114.53" lengthAdjust="spacingAndGlyphs">Приоритизация</tspan><tspan> </tspan><tspan x="467.04" font-family="'DejaVu Sans', 'Liberation Sans', sans-serif" font-size="15.50" stroke-width="0.25" textLength="6.34" lengthAdjust="spacingAndGlyphs">(</tspan><tspan x="473.37" font-family="'Liberation Sans', 'DejaVu Sans', sans-serif" font-size="16" textLength="25.90" lengthAdjust="spacingAndGlyphs">Топ</tspan><tspan x="499.28" font-family="'DejaVu Sans', 'Liberation Sans', sans-serif" font-size="15.50" stroke-width="0.25" textLength="22.97" lengthAdjust="spacingAndGlyphs">-5)</tspan></text>
<circle cx="433.7" cy="2082.8" r="10" fill="#28253d"/>
<text x="433.7" y="2087.2" text-anchor="middle" font-family="'Liberation Sans', 'DejaVu Sans', sans-serif" font-size="12.6" fill="#fff" stroke="#fff" stroke-width="0.2">18</text>
<line x1="433.1" y1="2160.1" x2="137.5" y2="2160.1" stroke="#28253d" stroke-width="2"/>
<path d="M128.50,2160.10 L139.40,2165.20 L139.40,2155.00 Z" fill="#28253d"/>
<text y="2147.50" fill="#28253d" stroke="#28253d" stroke-width="0.3" xml:space="preserve"><tspan x="217.27" font-family="'Liberation Sans', 'DejaVu Sans', sans-serif" font-size="16" textLength="85.18" lengthAdjust="spacingAndGlyphs">Финальный</tspan><tspan> </tspan><tspan x="307.20" font-family="'Liberation Sans', 'DejaVu Sans', sans-serif" font-size="16" textLength="39.63" lengthAdjust="spacingAndGlyphs">отчет</tspan></text>
<circle cx="432.6" cy="2160.1" r="10" fill="#28253d"/>
<text x="432.6" y="2164.5" text-anchor="middle" font-family="'Liberation Sans', 'DejaVu Sans', sans-serif" font-size="12.6" fill="#fff" stroke="#fff" stroke-width="0.2">19</text>
</svg>
</body>
</html>
